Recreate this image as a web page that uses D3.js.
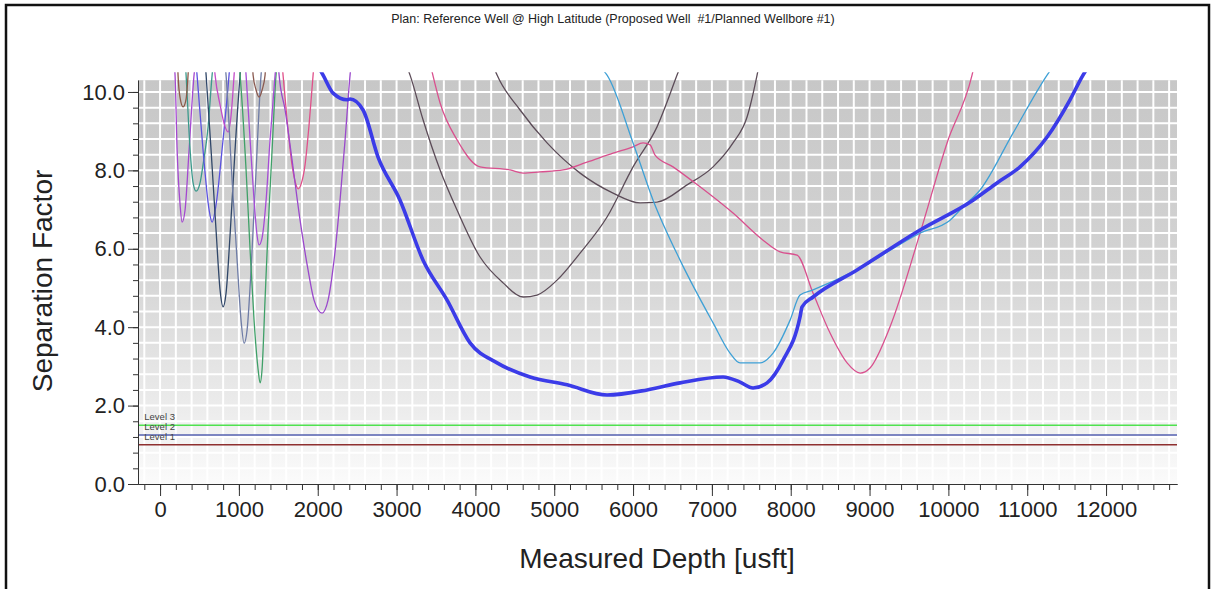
<!DOCTYPE html>
<html>
<head>
<meta charset="utf-8">
<script src="https://cdn.jsdelivr.net/npm/d3@7"></script>
<style>
  body { margin: 0; background: #fff; }
  svg { display: block; font-family: "Liberation Sans", Arial, sans-serif; }
</style>
</head>
<body>
<div id="chart"></div>
<script>
// ticks
var xMajorTicks = [0, 1000, 2000, 3000, 4000, 5000, 6000, 7000, 8000, 9000, 10000, 11000, 12000];
var yMajorTicks = [0, 2, 4, 6, 8, 10];

// warning levels
var levelNames = ["Level 1", "Level 2", "Level 3"];
var levelValues = [1.0, 1.25, 1.5];

// separation factor curves: [measured depth, separation factor]
var mainWell = [[2020,10.6],[2068,10.43],[2195,9.97],[2372,9.80],[2410,9.82],[2575,9.54],[2765,8.34],[3044,7.24],[3336,5.71],[3641,4.69],[3932,3.60],[4275,3.09],[4693,2.73],[5163,2.53],[5670,2.27],[6178,2.40],[6596,2.58],[7142,2.73],[7357,2.60],[7522,2.45],[7700,2.58],[7903,3.16],[8118,4.26],[8144,4.52],[8283,4.77],[8841,5.46],[9641,6.48],[10313,7.24],[10617,7.68],[10909,8.09],[11252,8.85],[11543,9.80],[11708,10.43],[11760,10.6]];
var lightBlue = [[5600,10.6],[5670,10.43],[6000,8.70],[6254,7.24],[6596,5.71],[7015,4.11],[7230,3.34],[7357,3.09],[7611,3.09],[7776,3.34],[7992,4.18],[8118,4.82],[8283,4.95],[8841,5.46],[9641,6.40],[10021,6.73],[10186,7.07],[10402,7.50],[10820,8.95],[11252,10.43],[11310,10.6]];
var pinkPlateau = [[3440,10.6],[3552,9.72],[3767,8.78],[4059,8.09],[4440,8.01],[4605,7.93],[4820,7.96],[5112,8.01],[5416,8.21],[5746,8.44],[6000,8.60],[6127,8.70],[6216,8.65],[6279,8.39],[6507,8.09],[6850,7.58],[7268,6.91],[7649,6.22],[7865,5.92],[8080,5.84],[8283,4.87],[8499,3.85],[8715,3.09],[8880,2.83],[9006,2.96],[9260,4.01],[9641,6.40],[9983,8.70],[10300,10.43],[10320,10.6]];
var grayA = [[3140,10.6],[3171,10.43],[3336,9.29],[3552,8.01],[3767,6.99],[4059,5.79],[4351,5.13],[4605,4.77],[4782,4.82],[5036,5.20],[5328,5.89],[5670,6.81],[6000,8.09],[6304,9.11],[6558,10.43],[6590,10.6]];
var grayB = [[4240,10.6],[4275,10.43],[4567,9.54],[4909,8.70],[5328,7.93],[5746,7.42],[6089,7.17],[6304,7.19],[6685,7.63],[7015,8.09],[7268,8.70],[7446,9.36],[7573,10.43],[7590,10.6]];
var purple1 = [[185,10.6],[190,10.43],[216,8.52],[254,7.12],[279,6.68],[317,6.99],[368,8.52],[431,10.43],[440,10.6]];
var teal = [[325,10.6],[330,10.43],[381,8.52],[419,7.68],[457,7.47],[507,7.68],[545,8.14],[609,9.11],[660,10.43],[668,10.6]];
var brown1 = [[225,10.6],[228,10.43],[254,9.85],[292,9.62],[330,9.82],[355,10.43],[360,10.6]];
var bluePurple = [[462,10.6],[469,10.43],[545,8.52],[622,6.99],[660,6.68],[710,7.12],[786,8.52],[875,10.43],[882,10.6]];
var magenta = [[690,10.6],[698,10.43],[761,9.67],[825,9.11],[863,8.98],[901,9.41],[939,10.43],[945,10.6]];
var navy = [[578,10.6],[584,10.43],[647,8.52],[710,6.48],[761,4.95],[799,4.52],[837,4.87],[888,6.35],[951,8.52],[1015,10.43],[1022,10.6]];
var grayBlue = [[830,10.6],[837,10.43],[913,7.76],[977,5.71],[1027,4.18],[1066,3.59],[1104,3.93],[1154,5.46],[1218,8.01],[1281,10.43],[1288,10.6]];
var green = [[1008,10.6],[1015,10.43],[1091,8.01],[1142,5.97],[1192,4.18],[1243,2.93],[1269,2.58],[1294,2.93],[1332,4.72],[1370,6.50],[1421,8.52],[1471,10.43],[1478,10.6]];
var purple2 = [[1085,10.6],[1091,10.43],[1142,8.78],[1192,7.24],[1230,6.35],[1256,6.10],[1294,6.28],[1345,7.24],[1395,8.78],[1459,10.43],[1466,10.6]];
var brown2 = [[1175,10.6],[1180,10.43],[1218,10.05],[1256,9.87],[1294,10.05],[1332,10.43],[1337,10.6]];
var pink2 = [[1553,10.6],[1560,10.43],[1611,9.29],[1674,8.14],[1725,7.63],[1751,7.53],[1789,7.65],[1839,8.14],[1890,9.16],[1941,10.43],[1948,10.6]];
var purpleBig = [[1503,10.6],[1510,10.43],[1586,9.54],[1674,8.27],[1776,6.73],[1877,5.46],[1953,4.69],[2055,4.36],[2131,4.69],[2207,5.71],[2283,7.24],[2347,8.78],[2410,10.43],[2418,10.6]];

var width = 1214, height = 589;

var svg = d3.select("#chart").append("svg")
    .attr("width", width)
    .attr("height", height);

var x = d3.scaleLinear().domain([-280, 12900]).range([138, 1177]);
var y = d3.scaleLinear().domain([0, 10.3]).range([484, 80.2]);

// outer frame
svg.append("rect")
    .attr("x", 6).attr("y", 5)
    .attr("width", 1203).attr("height", 620)
    .attr("fill", "none")
    .attr("stroke", "#111")
    .attr("stroke-width", 2.5);

svg.append("text")
    .attr("x", 613).attr("y", 23)
    .attr("text-anchor", "middle")
    .style("font-size", "12.5px")
    .style("white-space", "pre")
    .attr("fill", "#222")
    .text("Plan: Reference Well @ High Latitude (Proposed Well  #1/Planned Wellbore #1)");

var defs = svg.append("defs");
var grad = defs.append("linearGradient")
    .attr("id", "bg")
    .attr("x1", 0).attr("y1", 0).attr("x2", 0).attr("y2", 1);
grad.append("stop").attr("offset", "0%").attr("stop-color", "#c7c7c7");
grad.append("stop").attr("offset", "45%").attr("stop-color", "#d3d3d3");
grad.append("stop").attr("offset", "80%").attr("stop-color", "#ebebeb");
grad.append("stop").attr("offset", "100%").attr("stop-color", "#fbfbfb");

defs.append("clipPath").attr("id", "plotclip")
  .append("rect")
    .attr("x", x(-280)).attr("y", y(10.5))
    .attr("width", x(12900) - x(-280))
    .attr("height", y(0) - y(10.5));

// background cells
svg.append("rect")
    .attr("x", x(-280)).attr("y", y(10.3))
    .attr("width", x(12900) - x(-280))
    .attr("height", y(0) - y(10.3))
    .attr("fill", "url(#bg)");

var gridX = d3.range(-200, 12900, 200);
var gridY = d3.range(0.4, 10.3, 0.4);

svg.append("g").selectAll("line")
    .data(gridX)
  .enter().append("line")
    .attr("x1", function(d) { return x(d); })
    .attr("x2", function(d) { return x(d); })
    .attr("y1", y(10.3)).attr("y2", y(0))
    .attr("stroke", "#fff")
    .attr("stroke-width", 2);

svg.append("g").selectAll("line")
    .data(gridY)
  .enter().append("line")
    .attr("x1", x(-280)).attr("x2", x(12900))
    .attr("y1", function(d) { return y(d); })
    .attr("y2", function(d) { return y(d); })
    .attr("stroke", "#fff")
    .attr("stroke-width", 2);

// level lines
var levelColors = ["#8e2f2f", "#5560b0", "#4fe24f"];
svg.append("g").selectAll("line")
    .data(levelValues)
  .enter().append("line")
    .attr("x1", x(-280)).attr("x2", x(12900))
    .attr("y1", function(d) { return y(d); })
    .attr("y2", function(d) { return y(d); })
    .attr("stroke", function(d, i) { return levelColors[i]; })
    .attr("stroke-width", 1.5);

svg.append("g").selectAll("text")
    .data(levelValues)
  .enter().append("text")
    .attr("x", x(-200))
    .attr("y", function(d) { return y(d) - 5; })
    .style("font-size", "9.5px")
    .attr("fill", "#444")
    .text(function(d, i) { return levelNames[i]; });

// curves
var curves = [
  { data: purple1, color: "#a448d0", w: 1.3 },
  { data: teal, color: "#3b9a8c", w: 1.3 },
  { data: brown1, color: "#8c5a48", w: 1.3 },
  { data: bluePurple, color: "#5b52e0", w: 1.3 },
  { data: magenta, color: "#c34cc8", w: 1.3 },
  { data: navy, color: "#2f4668", w: 1.3 },
  { data: grayBlue, color: "#6e7ca6", w: 1.3 },
  { data: green, color: "#3fa068", w: 1.3 },
  { data: purple2, color: "#a64cd6", w: 1.3 },
  { data: brown2, color: "#8a5a50", w: 1.3 },
  { data: pink2, color: "#e0508a", w: 1.3 },
  { data: purpleBig, color: "#9a48cc", w: 1.3 },
  { data: grayA, color: "#5c4c58", w: 1.3 },
  { data: grayB, color: "#5c4c58", w: 1.3 },
  { data: pinkPlateau, color: "#d9508e", w: 1.3 },
  { data: lightBlue, color: "#3ea0d6", w: 1.3 },
  { data: mainWell, color: "#3b3be8", w: 3.6 }
];

var line = d3.line()
    .x(function(d) { return x(d[0]); })
    .y(function(d) { return y(d[1]); })
    .curve(d3.curveMonotoneX);

svg.append("g")
    .attr("clip-path", "url(#plotclip)")
  .selectAll("path")
    .data(curves)
  .enter().append("path")
    .attr("d", function(d) { return line(d.data); })
    .attr("fill", "none")
    .attr("stroke", function(d) { return d.color; })
    .attr("stroke-width", function(d) { return d.w; })
    .attr("stroke-linejoin", "round");

// axes
var xMinor = svg.append("g")
    .attr("transform", "translate(0," + y(0) + ")")
    .call(d3.axisBottom(x).tickValues(d3.range(-200, 12900, 200)).tickSize(6).tickSizeOuter(0).tickFormat(""));
var xMajor = svg.append("g")
    .attr("transform", "translate(0," + y(0) + ")")
    .call(d3.axisBottom(x).tickValues(xMajorTicks).tickSize(12).tickSizeOuter(0).tickPadding(5).tickFormat(d3.format("d")));

var yMinor = svg.append("g")
    .attr("transform", "translate(" + x(-280) + ",0)")
    .call(d3.axisLeft(y).tickValues(d3.range(0, 10.3, 0.4)).tickSize(5).tickSizeOuter(0).tickFormat(""));
var yMajor = svg.append("g")
    .attr("transform", "translate(" + x(-280) + ",0)")
    .call(d3.axisLeft(y).tickValues(yMajorTicks).tickSize(10).tickSizeOuter(0).tickPadding(3).tickFormat(d3.format(".1f")));

svg.selectAll(".domain, .tick line").attr("stroke", "#333");
svg.selectAll(".tick text")
    .attr("fill", "#222")
    .style("font-family", "'Liberation Sans', Arial, sans-serif")
    .style("font-size", "22px");

svg.append("text")
    .attr("transform", "translate(52,281) rotate(-90)")
    .attr("text-anchor", "middle")
    .style("font-size", "28px")
    .attr("fill", "#222")
    .text("Separation Factor");

svg.append("text")
    .attr("x", 657).attr("y", 568)
    .attr("text-anchor", "middle")
    .style("font-size", "28px")
    .attr("fill", "#222")
    .text("Measured Depth [usft]");
</script>
</body>
</html>
